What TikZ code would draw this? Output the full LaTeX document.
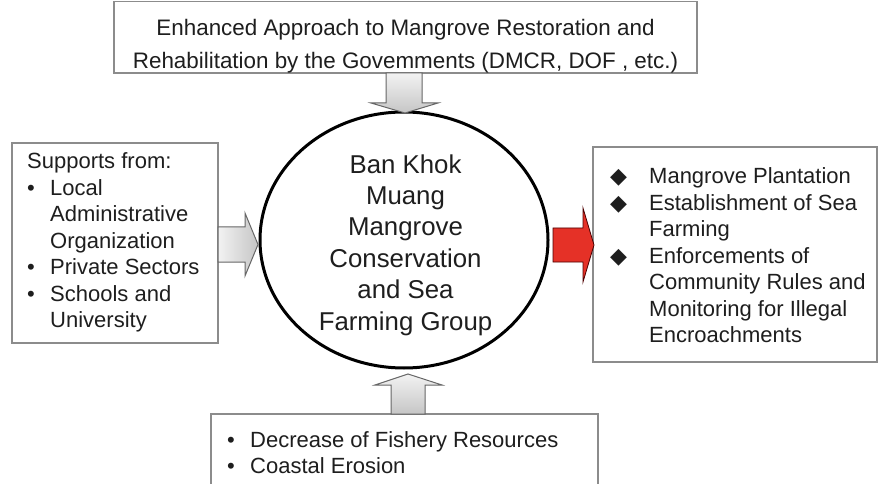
\documentclass[tikz,border=0pt]{standalone}
\usepackage{fontspec}
\setmainfont{Liberation Sans}
\newfontfamily\dejavu{DejaVu Sans}
\definecolor{boxline}{HTML}{8C8C8C}
\definecolor{txtcol}{HTML}{1E1E1E}
\definecolor{arrred}{HTML}{E53127}
\begin{document}
\begin{tikzpicture}[x=1pt,y=-1pt,
  box/.style={draw=boxline,line width=1.4pt,fill=white},
  txt/.style={font=\fontsize{22}{26.5}\selectfont,text=txtcol,inner sep=0pt,align=left},
  grayarrow/.style={draw=black!60,line width=1pt,top color=gray!10,bottom color=gray!45},
  redarrow/.style={draw=black!70!red,line width=0.8pt,fill=arrred}]
\useasboundingbox (0,0) rectangle (879,484);
% boxes
\draw[box] (114,1.5) rectangle (697,73);
\draw[box] (12,143) rectangle (218,343);
\draw[box] (593,147) rectangle (877,362);
\draw[box] (211,414) rectangle (598,495);
% ellipse
\draw[line width=3pt,black] (404,240) ellipse [x radius=144,y radius=128];
% arrows
\draw[grayarrow] (386,73) -- (422,73) -- (422,103) -- (438,103) -- (405,113) -- (371,103) -- (386,103) -- cycle;
\draw[grayarrow,left color=gray!10,right color=gray!45] (218,227) -- (245,227) -- (245,213) -- (258,244.5) -- (245,276) -- (245,262) -- (218,262) -- cycle;
\draw[redarrow] (553,228) -- (583,228) -- (583,208) -- (594,245) -- (583,282) -- (583,262) -- (553,262) -- cycle;
\draw[grayarrow] (391,414) -- (391,385) -- (375,385) -- (408,374) -- (442,385) -- (425,385) -- (425,414) -- cycle;
% texts
\node[txt,align=center,font=\fontsize{22.4}{33}\selectfont] (top) at (405.5,46.5) {Enhanced Approach to Mangrove Restoration and\\Rehabilitation by the Govemments (DMCR, DOF , etc.)};
\node[txt,align=center,font=\fontsize{25.8}{31.4}\selectfont] (center) at (405.5,245) {Ban Khok\\Muang\\Mangrove\\Conservation\\and Sea\\Farming Group};
\node[txt,anchor=west] (left) at (27,242.5) {Supports from:\\
\makebox[23pt][l]{•}Local\\
\hspace*{23pt}Administrative\\
\hspace*{23pt}Organization\\
\makebox[23pt][l]{•}Private Sectors\\
\makebox[23pt][l]{•}Schools and\\
\hspace*{23pt}University};
\node[txt,anchor=west] (right) at (610,255.5) {\makebox[39pt][l]{\dejavu ◆}Mangrove Plantation\\
\makebox[39pt][l]{\dejavu ◆}Establishment of Sea\\
\hspace*{39pt}Farming\\
\makebox[39pt][l]{\dejavu ◆}Enforcements of\\
\hspace*{39pt}Community Rules and\\
\hspace*{39pt}Monitoring for Illegal\\
\hspace*{39pt}Encroachments};
\node[txt,anchor=west] (bottom) at (227,452.5) {\makebox[23pt][l]{•}Decrease of Fishery Resources\\
\makebox[23pt][l]{•}Coastal Erosion};
\end{tikzpicture}
\end{document}
